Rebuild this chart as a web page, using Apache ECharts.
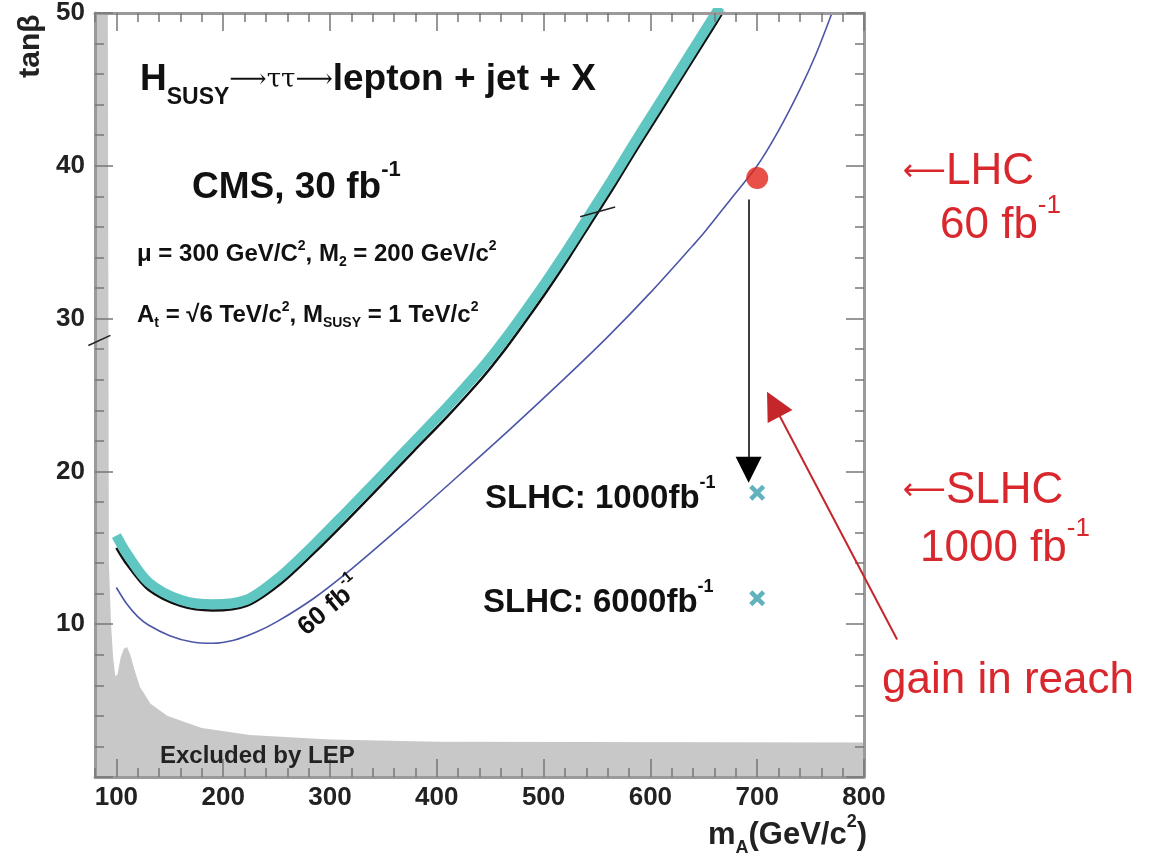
<!DOCTYPE html>
<html><head><meta charset="utf-8">
<script src="https://cdn.jsdelivr.net/npm/echarts@6/dist/echarts.min.js"></script>
<style>html,body{margin:0;padding:0;background:#fff}#c{width:1171px;height:856px}</style>
</head><body><div id="c"></div>
<script>
// ---- data ----
const xTicks = [100, 200, 300, 400, 500, 600, 700, 800];
const yTicks = [10, 20, 30, 40, 50];
const lepMass = [80, 92, 93, 95, 97, 99, 101, 104, 107, 110, 113, 117, 122, 132, 148, 180, 225, 300, 400, 800];
const lepTanB = [50, 50, 14, 10, 7.8, 6.6, 6.7, 7.8, 8.4, 8.5, 8.0, 7.0, 5.9, 4.8, 4.0, 3.2, 2.75, 2.45, 2.3, 2.25];
const cms30Mass = [100, 110, 130, 160, 190, 222, 253, 285, 316, 350, 378, 410, 438, 452, 466, 485, 503, 524, 544, 564, 584, 603, 621, 638, 656, 665];
const cms30TanB = [15.8, 14.6, 12.75, 11.6, 11.3, 11.6, 13.1, 15.2, 17.4, 19.85, 21.9, 24.24, 26.42, 27.6, 28.86, 30.7, 32.49, 34.7, 36.9, 39.1, 41.38, 43.5, 45.5, 47.4, 49.4, 50.4];
const edgeMass = [100, 110, 130, 160, 190, 222, 253, 285, 316, 350, 378, 410, 438, 452, 466, 485, 503, 524, 544, 564, 584, 603, 621, 638, 656, 670];
const edgeTanB = [15.0, 13.9, 12.25, 11.2, 10.9, 11.2, 12.6, 14.65, 16.8, 19.25, 21.3, 23.6, 25.75, 26.92, 28.17, 30.0, 31.79, 34.0, 36.2, 38.4, 40.68, 42.8, 44.8, 46.7, 48.7, 50.3];
const lhc60Mass = [100, 110, 120, 130, 150, 170, 190, 210, 230, 250, 285, 320, 370, 420, 470, 520, 560, 600, 640, 650, 675, 700, 720, 740, 755, 770];
const lhc60TanB = [12.4, 11.3, 10.5, 9.95, 9.25, 8.85, 8.75, 8.95, 9.45, 10.15, 11.7, 13.6, 16.6, 19.7, 22.85, 26.1, 28.8, 31.7, 34.8, 35.6, 37.8, 40.0, 42.3, 45.0, 47.3, 50.0];
const lhcPoint = [[700, 39.2]];
const slhcMass = [700, 700];
const slhcTanB = [18.6, 11.7];
const downArrow = [[692, 37.8], [692, 20.1]];
const gainArrow = [[831, 9.0], [715.3, 24.4]];
const breakMarks = [[[73.8, 28.24], [94.4, 28.9]], [[534.2, 36.67], [567, 37.3]]];

const pairs = (xs, ys) => xs.map((x, i) => [x, ys[i]]);

const FF = '"Liberation Sans", Arial, sans-serif';
const TICK = { color: '#777', width: 1.5 };
const AXL = { show: true, lineStyle: { color: '#9a9a9a', width: 3 } };

const chart = echarts.init(document.getElementById('c'), null, { renderer: 'canvas' });

function xAx(pos, major, labels) {
  const a = {
    type: 'value', min: 80, max: 800, position: pos, z: 5,
    axisLine: major ? { show: false } : AXL,
    splitLine: { show: false },
    axisTick: { show: true, inside: true, length: major ? 18 : 9, lineStyle: TICK },
    axisLabel: { show: false }
  };
  if (major) a.axisTick.customValues = xTicks; else a.interval = 20;
  if (labels) a.axisLabel = {
    show: true, customValues: xTicks, margin: 8,
    fontSize: 26, fontWeight: 'bold', fontFamily: FF, color: '#222'
  };
  return a;
}
function yAx(pos, labels) {
  return {
    type: 'value', min: 0, max: 50, interval: 10, position: pos, z: 5,
    axisLine: AXL, splitLine: { show: false }, minorSplitLine: { show: false },
    axisTick: { show: true, inside: true, length: 18, lineStyle: TICK },
    minorTick: { show: true, splitNumber: 5, length: 9, lineStyle: TICK },
    axisLabel: labels ? {
      show: true, margin: 10, fontSize: 26, fontWeight: 'bold', fontFamily: FF, color: '#222',
      formatter: v => yTicks.includes(v) ? String(v) : ''
    } : { show: false }
  };
}

const sup = (size, lh, extra) => Object.assign({ font: 'bold ' + size + 'px ' + FF, lineHeight: lh, verticalAlign: 'top', fill: '#111' }, extra || {});
const sub = (size, lh, extra) => Object.assign({ font: 'bold ' + size + 'px ' + FF, lineHeight: lh, verticalAlign: 'bottom', fill: '#111' }, extra || {});
const mainF = (size, lh, color, weight) => ({ font: (weight || 'bold') + ' ' + size + 'px ' + FF, lineHeight: lh, fill: color || '#111' });

function txt(x, y, text, rich, opts) {
  return Object.assign({
    type: 'text', x: x, y: y, z: 100, silent: true,
    style: { text: text, rich: rich, align: 'left', verticalAlign: 'middle', fill: '#111', font: 'bold 20px ' + FF }
  }, opts || {});
}
const RED = '#d9272e';
const redRich = {
  m: mainF(44, 66, RED, 'normal'),
  a: { font: '30px "DejaVu Sans", sans-serif', lineHeight: 66, fill: RED },
  s: { font: '26px ' + FF, lineHeight: 26, verticalAlign: 'top', fill: RED }
};

const graphics = [
  txt(140, 80, '{m|H}{sb|SUSY}{ar|⟶ττ⟶}{m|lepton + jet + X}', {
    m: mainF(37, 59), sb: sub(23, 23), ar: { font: '26px "DejaVu Serif", serif', lineHeight: 59, fill: '#111' }
  }),
  txt(192, 188, '{m|CMS, 30 fb}{s|-1}', { m: mainF(37, 58), s: sup(22, 22) }),
  txt(137, 254, '{m|μ = 300 GeV/C}{p|2}{m|, M}{b|2}{m| = 200 GeV/c}{p|2}', {
    m: mainF(24, 30), p: sup(14, 14), b: sub(14, 14)
  }),
  txt(137, 315, '{m|A}{b|t}{m| = √6 TeV/c}{p|2}{m|, M}{b|SUSY}{m| = 1 TeV/c}{p|2}', {
    m: mainF(24, 30), p: sup(14, 14), b: sub(14, 14)
  }),
  txt(485, 499, '{m|SLHC: 1000fb}{s|-1}', { m: mainF(33, 50), s: sup(18, 18) }),
  txt(483, 603, '{m|SLHC: 6000fb}{s|-1}', { m: mainF(33, 50), s: sup(18, 18) }),
  txt(330, 607, '{m|60 fb}{s|-1}', { m: mainF(26, 38), s: sup(15, 15) },
    { rotation: 40 * Math.PI / 180 }),
  txt(160, 756, '{m|Excluded by LEP}', { m: mainF(24, 30, '#222') }),
  txt(31, 46, '{m|tanβ}', { m: mainF(30, 34, '#222') }, { rotation: Math.PI / 2 }),
  txt(867, 835, '{m|m}{b|A}{m|(GeV/c}{p|2}{m|)}', { m: mainF(31, 44, '#222'), b: sub(18, 18, { fill: '#222' }), p: sup(18, 18, { fill: '#222' }) }),
  txt(903, 172, '{a|⟵}{m|LHC}', redRich),
  txt(940, 226, '{m|60 fb}{s|-1}', redRich),
  txt(903, 491, '{a|⟵}{m|SLHC}', redRich),
  txt(920, 549, '{m|1000 fb}{s|-1}', redRich),
  txt(882, 681, '{m|gain in reach}', redRich)
];
graphics[6].style.align = 'center';
graphics[8].style.align = 'center';
graphics[9].style.align = 'right';

const option = {
  animation: false,
  backgroundColor: '#fff',
  grid: { left: 95, right: 307, top: 13, bottom: 79 },
  xAxis: [xAx('bottom', false, false), xAx('bottom', true, true), xAx('top', false, false), xAx('top', true, false)],
  yAxis: [yAx('left', true), yAx('right', false)],
  series: [
    { name: 'LEP', type: 'line', data: pairs(lepMass, lepTanB), symbol: 'none', silent: true,
      lineStyle: { width: 0 }, areaStyle: { color: '#c8c8c8', opacity: 1 }, z: 1 },
    { name: 'edge', type: 'line', data: pairs(edgeMass, edgeTanB), symbol: 'none', smooth: 0.3, silent: true,
      lineStyle: { color: '#111', width: 2.5 }, z: 2 },
    { name: '30 fb-1', type: 'line', data: pairs(cms30Mass, cms30TanB), symbol: 'none', smooth: 0.3, silent: true,
      lineStyle: { color: '#5fc6c2', width: 10 }, z: 3 },
    { name: '60 fb-1', type: 'line', data: pairs(lhc60Mass, lhc60TanB), symbol: 'none', smooth: 0.3, silent: true,
      lineStyle: { color: '#4c56a6', width: 1.6 }, z: 3 },
    { name: 'break', type: 'lines', coordinateSystem: 'cartesian2d', clip: false, silent: true,
      data: breakMarks.map(c => ({ coords: c })), symbol: 'none',
      lineStyle: { color: '#222', width: 1.5, opacity: 1 }, z: 6 },
    { name: 'down', type: 'lines', coordinateSystem: 'cartesian2d', clip: false, silent: true,
      data: [{ coords: downArrow }], symbol: ['none', 'triangle'], symbolSize: 26,
      lineStyle: { color: '#000', width: 1.5, opacity: 1 }, z: 6 },
    { name: 'gain', type: 'lines', coordinateSystem: 'cartesian2d', clip: false, silent: true,
      data: [{ coords: gainArrow }], symbol: ['none', 'triangle'], symbolSize: 28,
      lineStyle: { color: '#c4262b', width: 2, opacity: 1 }, z: 6 },
    { name: 'LHC', type: 'scatter', data: lhcPoint, symbol: 'circle', symbolSize: 22, silent: true,
      itemStyle: { color: '#e2241a' }, z: 7 },
    { name: 'SLHC', type: 'scatter', data: pairs(slhcMass, slhcTanB), silent: true,
      symbol: 'path://M0,2L2,0L5,3L8,0L10,2L7,5L10,8L8,10L5,7L2,10L0,8L3,5Z', symbolSize: 16,
      itemStyle: { color: '#3a9fab' }, z: 7 }
  ],
  graphic: graphics
};
chart.setOption(option);
</script></body></html>
